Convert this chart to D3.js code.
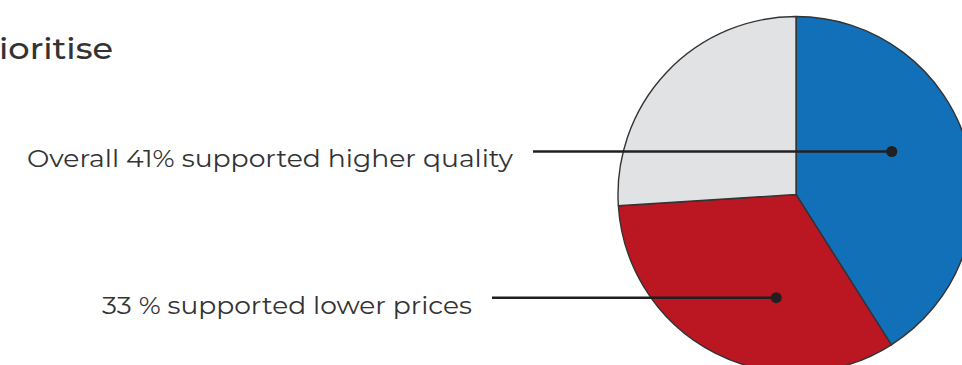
<!DOCTYPE html>
<html>
<head>
<meta charset="utf-8">
<script src="https://cdn.jsdelivr.net/npm/d3@7"></script>
<style>
  body { margin: 0; background: #fff; }
  text { font-family: Montserrat, "Open Sans", "DejaVu Sans", sans-serif; fill: #333; }
</style>
</head>
<body>
<svg width="962" height="365"></svg>
<script>
// slices, clockwise from 12 o'clock
var categories = ['Higher quality', 'Lower prices', 'Other'];
var shares = [41, 33, 26];
var labels = ['Overall 41% supported higher quality', '33 % supported lower prices', null];
var title = 'ioritise';

var colors = ['#1170b8', '#bb1723', '#e1e2e4'];

var svg = d3.select('svg');

var cx = 796, cy = 194.5, radius = 178;

svg.append('text')
    .text(title)
    .attr('x', 113)
    .attr('y', 59)
    .attr('text-anchor', 'end')
    .attr('textLength', 114)
    .attr('lengthAdjust', 'spacingAndGlyphs')
    .style('font-size', '29px')
    .style('font-weight', 500);

var pie = d3.pie().sort(null).value(function(d){ return d; });
var arcs = pie(shares);
var arc = d3.arc().innerRadius(0).outerRadius(radius);

var g = svg.append('g').attr('transform', 'translate(' + cx + ',' + cy + ')');

g.selectAll('path')
    .data(arcs)
    .enter().append('path')
    .attr('d', arc)
    .style('fill', function(d, i){ return colors[i]; })
    .style('stroke', '#333')
    .style('stroke-width', 1.4)
    .style('stroke-linejoin', 'round');

// where the leader dot sits inside each slice (fraction of the slice's sweep)
var dotFraction = [0.446, 0.364];
var dotRadius = 105;
// label placement
var labelRight = [513, 472];
var lineStart = [533, 492];
var labelWidth = [486, 370];
var labelDrop = [15, 16];

arcs.forEach(function(a, i){
    if (!labels[i]) return;
    var ang = a.startAngle + (a.endAngle - a.startAngle) * dotFraction[i];
    var dx = cx + dotRadius * Math.sin(ang);
    var dy = cy - dotRadius * Math.cos(ang);

    svg.append('line')
        .attr('x1', lineStart[i]).attr('y1', dy)
        .attr('x2', dx).attr('y2', dy)
        .style('stroke', '#231f20')
        .style('stroke-width', 2.5);

    svg.append('circle')
        .attr('cx', dx).attr('cy', dy).attr('r', 5.5)
        .style('fill', '#231f20');

    svg.append('text')
        .text(labels[i])
        .attr('x', labelRight[i])
        .attr('y', dy + labelDrop[i])
        .attr('text-anchor', 'end')
        .attr('textLength', labelWidth[i])
        .attr('lengthAdjust', 'spacingAndGlyphs')
        .style('font-size', '25px');
});
</script>
</body>
</html>
